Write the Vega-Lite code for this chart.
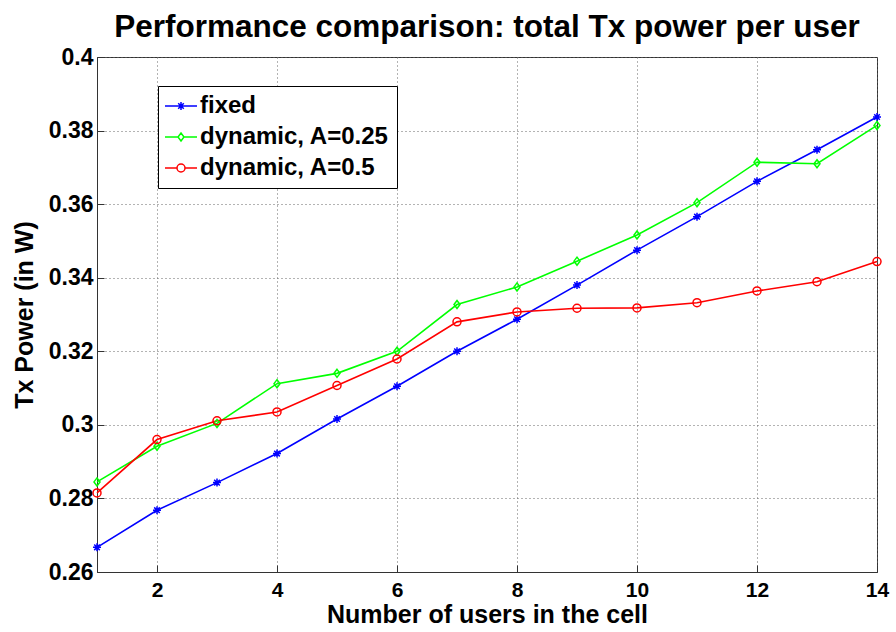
{
  "$schema": "https://vega.github.io/schema/vega-lite/v6.json",
  "autosize": "none",
  "width": 780,
  "height": 515,
  "padding": {"left": 97, "top": 57, "right": 19, "bottom": 60},
  "background": "white",
  "title": {
    "text": "Performance comparison: total Tx power per user",
    "font": "Liberation Sans",
    "fontSize": 31.5,
    "fontWeight": "bold",
    "color": "black",
    "anchor": "middle",
    "frame": "group",
    "offset": 3
  },
  "config": {
    "font": "Liberation Sans",
    "view": {"stroke": "#333", "strokeWidth": 1},
    "axis": {
      "labelFont": "Liberation Sans",
      "labelFontWeight": "bold",
      "labelColor": "black",
      "titleFont": "Liberation Sans",
      "titleFontWeight": "bold",
      "titleFontSize": 25,
      "titleColor": "black",
      "domainColor": "#333",
      "tickColor": "#333",
      "gridColor": "#666",
      "gridDash": [1, 3],
      "gridOpacity": 1,
      "gridWidth": 1
    },
    "legend": {
      "title": null,
      "orient": "none",
      "legendX": 61,
      "legendY": 29,
      "padding": 8,
      "strokeColor": "black",
      "fillColor": "white",
      "labelFont": "Liberation Sans",
      "labelFontWeight": "bold",
      "labelFontSize": 24,
      "labelColor": "black",
      "labelLimit": 400,
      "labelOffset": 7,
      "symbolSize": 64,
      "symbolStrokeWidth": 1.5,
      "symbolOpacity": 1,
      "rowPadding": 7,
      "symbolOffset": 3
    }
  },
  "data": {
    "values": [
      {"x": 1, "series": "fixed", "y": 0.2667},
      {"x": 2, "series": "fixed", "y": 0.2768},
      {"x": 3, "series": "fixed", "y": 0.2843},
      {"x": 4, "series": "fixed", "y": 0.2922},
      {"x": 5, "series": "fixed", "y": 0.3016},
      {"x": 6, "series": "fixed", "y": 0.3105},
      {"x": 7, "series": "fixed", "y": 0.3200},
      {"x": 8, "series": "fixed", "y": 0.3287},
      {"x": 9, "series": "fixed", "y": 0.3380},
      {"x": 10, "series": "fixed", "y": 0.3475},
      {"x": 11, "series": "fixed", "y": 0.3566},
      {"x": 12, "series": "fixed", "y": 0.3662},
      {"x": 13, "series": "fixed", "y": 0.3748},
      {"x": 14, "series": "fixed", "y": 0.3837},
      {"x": 1, "series": "dynamic, A=0.25", "y": 0.2845},
      {"x": 2, "series": "dynamic, A=0.25", "y": 0.2942},
      {"x": 3, "series": "dynamic, A=0.25", "y": 0.3004},
      {"x": 4, "series": "dynamic, A=0.25", "y": 0.3112},
      {"x": 5, "series": "dynamic, A=0.25", "y": 0.3140},
      {"x": 6, "series": "dynamic, A=0.25", "y": 0.3200},
      {"x": 7, "series": "dynamic, A=0.25", "y": 0.3327},
      {"x": 8, "series": "dynamic, A=0.25", "y": 0.3375},
      {"x": 9, "series": "dynamic, A=0.25", "y": 0.3445},
      {"x": 10, "series": "dynamic, A=0.25", "y": 0.3516},
      {"x": 11, "series": "dynamic, A=0.25", "y": 0.3604},
      {"x": 12, "series": "dynamic, A=0.25", "y": 0.3714},
      {"x": 13, "series": "dynamic, A=0.25", "y": 0.3710},
      {"x": 14, "series": "dynamic, A=0.25", "y": 0.3814},
      {"x": 1, "series": "dynamic, A=0.5", "y": 0.2815},
      {"x": 2, "series": "dynamic, A=0.5", "y": 0.2960},
      {"x": 3, "series": "dynamic, A=0.5", "y": 0.3011},
      {"x": 4, "series": "dynamic, A=0.5", "y": 0.3035},
      {"x": 5, "series": "dynamic, A=0.5", "y": 0.3107},
      {"x": 6, "series": "dynamic, A=0.5", "y": 0.3179},
      {"x": 7, "series": "dynamic, A=0.5", "y": 0.3280},
      {"x": 8, "series": "dynamic, A=0.5", "y": 0.3307},
      {"x": 9, "series": "dynamic, A=0.5", "y": 0.3317},
      {"x": 10, "series": "dynamic, A=0.5", "y": 0.3318},
      {"x": 11, "series": "dynamic, A=0.5", "y": 0.3332},
      {"x": 12, "series": "dynamic, A=0.5", "y": 0.3364},
      {"x": 13, "series": "dynamic, A=0.5", "y": 0.3389},
      {"x": 14, "series": "dynamic, A=0.5", "y": 0.3444}
    ]
  },
  "encoding": {
    "x": {
      "field": "x",
      "type": "quantitative",
      "scale": {"domain": [1, 14], "nice": false, "zero": false},
      "axis": {
        "title": "Number of users in the cell",
        "values": [2, 4, 6, 8, 10, 12, 14],
        "tickSize": -7,
        "labelFontSize": 21,
        "labelPadding": 14,
        "titlePadding": 2,
        "labelFlush": false
      }
    },
    "y": {
      "field": "y",
      "type": "quantitative",
      "scale": {"domain": [0.26, 0.4], "nice": false, "zero": false},
      "axis": {
        "title": "Tx Power (in W)",
        "values": [0.26, 0.28, 0.3, 0.32, 0.34, 0.36, 0.38, 0.4],
        "format": ".2~f",
        "tickSize": -7,
        "labelFontSize": 23,
        "labelPadding": 11,
        "titlePadding": 11,
        "labelFlush": false
      }
    },
    "color": {
      "field": "series",
      "type": "nominal",
      "scale": {
        "domain": ["fixed", "dynamic, A=0.25", "dynamic, A=0.5"],
        "range": ["#0000FF", "#00FF00", "#FF0000"]
      }
    }
  },
  "layer": [
    {
      "mark": {"type": "point", "filled": false, "strokeWidth": 1.5, "size": 0},
      "encoding": {
        "shape": {
          "field": "series",
          "type": "nominal",
          "scale": {
            "domain": ["fixed", "dynamic, A=0.25", "dynamic, A=0.5"],
            "range": [
              "M-4,0L4,0M0,-1L0,1M-0.7,-0.7L0.7,0.7M-0.7,0.7L0.7,-0.7",
              "M-4,0L-0.75,0M0.75,0L4,0M0,-1L0.75,0L0,1L-0.75,0Z",
              "M-4,0L-1,0M1,0L4,0M1,0A1,1,0,1,1,-1,0A1,1,0,1,1,1,0Z"
            ]
          }
        }
      }
    },
    {
      "mark": {"type": "line", "strokeWidth": 1.6}
    },
    {
      "transform": [{"filter": "datum.series === 'fixed'"}],
      "mark": {"type": "point", "filled": false, "strokeWidth": 1.5, "size": 64, "opacity": 1,
               "shape": "M-1,0L1,0M0,-1L0,1M-0.7,-0.7L0.7,0.7M-0.7,0.7L0.7,-0.7"}
    },
    {
      "transform": [{"filter": "datum.series === 'dynamic, A=0.25'"}],
      "mark": {"type": "point", "filled": false, "strokeWidth": 1.5, "size": 64, "opacity": 1,
               "shape": "M0,-1L0.75,0L0,1L-0.75,0Z"}
    },
    {
      "transform": [{"filter": "datum.series === 'dynamic, A=0.5'"}],
      "mark": {"type": "point", "filled": false, "strokeWidth": 1.5, "size": 64, "opacity": 1,
               "shape": "circle"}
    }
  ]
}
